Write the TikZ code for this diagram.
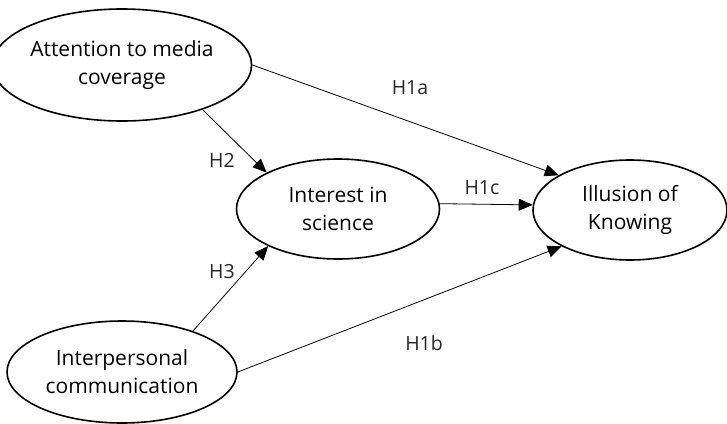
\documentclass[tikz,border=0pt]{standalone}
\usepackage{fontspec}
\setmainfont{Open Sans}
\usetikzlibrary{shapes.geometric,arrows.meta}

\begin{document}
\begin{tikzpicture}[x=1pt, y=-1pt, >={Triangle[length=14pt,width=12pt]},
    construct/.style={draw, ellipse, line width=1.6pt, align=center, inner sep=0pt,
        font=\fontsize{21}{28}\selectfont},
    effect/.style={->, line width=0.8pt},
    hyp/.style={font=\fontsize{19.5}{22}\selectfont, text=black!85}]

        \useasboundingbox (0,0) rectangle (727,423);

        % Constructs
        \node[construct, minimum width=230, minimum height=112] (att) at (122,65) {Attention to media\\coverage};
        \node[construct, minimum width=203, minimum height=100] (int) at (338,209) {Interest in\\science};
        \node[construct, minimum width=194, minimum height=100] (ill) at (630,210) {Illusion of\\Knowing};
        \node[construct, minimum width=230, minimum height=102] (ipc) at (122,372) {Interpersonal\\communication};

        % Paths
        \draw[effect] (att.east) -- (ill.154);
        \draw[effect] (att.331) -- (int.153);
        \draw[effect] (int.3) -- (ill.177);
        \draw[effect] (ipc.30) -- (int.208);
        \draw[effect] (ipc.east) -- (ill.208);

        % Hypotheses
        \node[hyp] (h1a) at (410,88) {H1a};
        \node[hyp] (h2) at (222,160) {H2};
        \node[hyp] (h1c) at (482,188) {H1c};
        \node[hyp] (h3) at (222,272) {H3};
        \node[hyp] (h1b) at (424,343) {H1b};

    \end{tikzpicture}
\end{document}
